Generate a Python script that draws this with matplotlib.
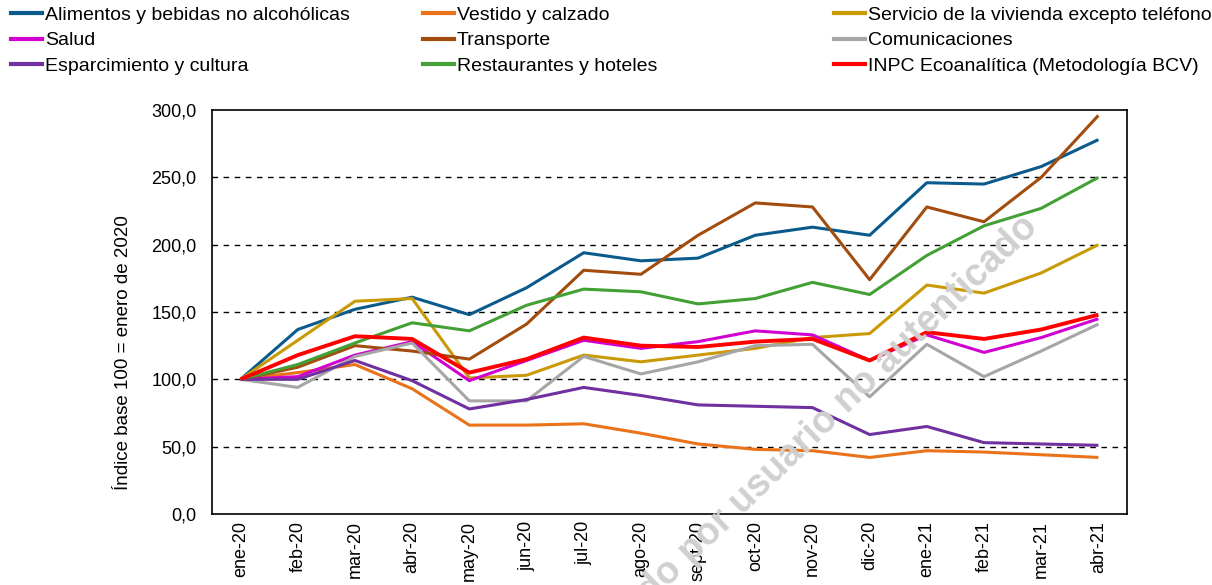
import matplotlib
matplotlib.use("Agg")
from matplotlib import pyplot as plt
from matplotlib.lines import Line2D
import numpy as np

plt.rcParams['font.family'] = ['Liberation Sans', 'DejaVu Sans']

# 数据
meses = ['ene-20', 'feb-20', 'mar-20', 'abr-20', 'may-20', 'jun-20', 'jul-20', 'ago-20',
         'sept-20', 'oct-20', 'nov-20', 'dic-20', 'ene-21', 'feb-21', 'mar-21', 'abr-21']

alimentos      = [100, 137, 152, 161, 148, 168, 194, 188, 190, 207, 213, 207, 246, 245, 258, 278]
vestido        = [100, 105, 111, 93, 66, 66, 67, 60, 52, 48, 47, 42, 47, 46, 44, 42]
vivienda       = [100, 129, 158, 160, 101, 103, 118, 113, 118, 123, 131, 134, 170, 164, 179, 200]
salud          = [100, 102, 118, 128, 99, 114, 129, 123, 128, 136, 133, 114, 133, 120, 131, 145]
transporte     = [100, 109, 125, 121, 115, 141, 181, 178, 207, 231, 228, 174, 228, 217, 250, 296]
comunicaciones = [100, 94, 117, 127, 84, 84, 117, 104, 113, 125, 126, 87, 126, 102, 121, 141]
esparcimiento  = [100, 100, 114, 99, 78, 85, 94, 88, 81, 80, 79, 59, 65, 53, 52, 51]
restaurantes   = [100, 111, 127, 142, 136, 155, 167, 165, 156, 160, 172, 163, 192, 214, 227, 250]
inpc           = [100, 118, 132, 130, 105, 115, 131, 125, 124, 128, 130, 114, 135, 130, 137, 148]

series = [
    ('Alimentos y bebidas no alcohólicas', alimentos, '#0b5a8c'),
    ('Vestido y calzado', vestido, '#ea7218'),
    ('Servicio de la vivienda excepto teléfono', vivienda, '#c99a06'),
    ('Salud', salud, '#d100d1'),
    ('Transporte', transporte, '#a24c0e'),
    ('Comunicaciones', comunicaciones, '#a6a6a6'),
    ('Esparcimiento y cultura', esparcimiento, '#7030a0'),
    ('Restaurantes y hoteles', restaurantes, '#43a035'),
    ('INPC Ecoanalítica (Metodología BCV)', inpc, '#ff0000'),
]

fig = plt.figure(figsize=(12.12, 5.85), dpi=100)
ax = fig.add_axes([212/1212, 1-514/585, (1127-212)/1212, (514-110)/585])

x = np.arange(len(meses))
for nombre, vals, color in series:
    lw = 2.8 if nombre.startswith('INPC') else 2.2
    ax.plot(x, vals, color=color, lw=lw, label=nombre, solid_capstyle='butt')

# 坐标轴
ax.set_xlim(-0.5, len(meses) - 0.5)
ax.set_ylim(0, 300)
ax.set_yticks(np.arange(0, 301, 50))
ax.set_yticklabels([f'{v:.1f}'.replace('.', ',') for v in np.arange(0, 301, 50)])
ax.set_xticks(x)
ax.set_xticklabels(meses, rotation=90, va='top')
ax.tick_params(axis='y', length=0, pad=11, labelsize=13)
ax.tick_params(axis='x', length=0, pad=5, labelsize=13)
for s in ax.spines.values():
    s.set_linewidth(1.2)

for v in [50, 100, 150, 200, 250]:
    ax.axhline(v, color='black', lw=1.0, ls=(0, (4, 4)), zorder=0)

ax.set_ylabel('Índice base 100 = enero de 2020', fontsize=13.5)
ax.yaxis.set_label_coords(-0.087, 0.40)

# 图例: 三列
cols_x = [0.009, 0.349, 0.688]
for i, cx in enumerate(cols_x):
    hs = [Line2D([0], [0], color=series[j][2], lw=3) for j in (i, i + 3, i + 6)]
    labels = [series[j][0] for j in (i, i + 3, i + 6)]
    fig.legend(hs, labels, loc='upper left', bbox_to_anchor=(cx, 1 - 6/585), frameon=False,
               fontsize=14, handlelength=1.6, handletextpad=0.15, labelspacing=0.42,
               borderaxespad=0, borderpad=0)

# 水印
fig.text(1032/1212, 1-222/585, 'Descargado por usuario no autenticado', fontsize=27,
         fontweight='bold', color='#d0d0d0', rotation=44, rotation_mode='anchor',
         ha='right', va='center', zorder=0.5)

fig.savefig('out.png', dpi=100)
